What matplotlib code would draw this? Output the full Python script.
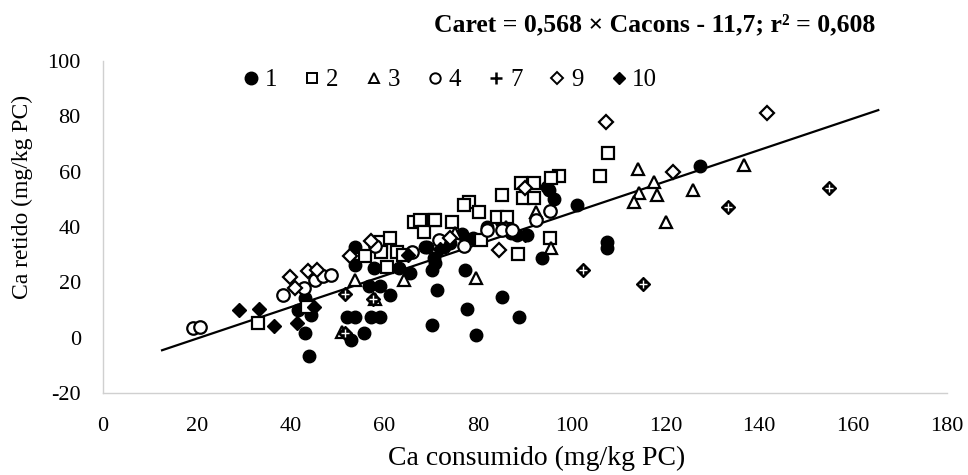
import numpy as np
import matplotlib
matplotlib.use("Agg")
import matplotlib.pyplot as plt
from matplotlib.lines import Line2D

plt.rcParams['font.family'] = ['Liberation Serif', 'DejaVu Serif']
plt.rcParams['axes.unicode_minus'] = False

# Ca consumido (x) e Ca retido (y), mg/kg PC, por grupo
g1_x = [43.2, 43.5, 41.7, 44.4, 43.2, 44.0, 53.8, 53.8, 57.8, 56.7, 59.2, 61.3,
        52.1, 53.8, 57.1, 59.2, 55.6, 53.0, 63.1, 65.6, 70.2, 71.3, 70.2, 68.8,
        77.2, 77.7, 85.2, 88.7, 79.5, 69.2, 72.7, 74.1, 70.6, 70.9, 88.3, 90.5,
        93.7, 96.2, 95.2, 94.8, 101.1, 107.6, 107.5, 127.4, 76.5, 79.0, 82.0,
        85.0, 87.0]
g1_y = [14.2, 11.2, 10.0, 8.2, 1.6, -6.5, 32.9, 26.3, 25.1, 18.7, 18.7, 15.4,
        7.6, 7.6, 7.6, 7.6, 1.6, -0.8, 25.1, 23.3, 24.5, 17.2, 4.6, 32.9,
        24.5, 10.3, 14.6, 7.6, 1.0, 32.9, 32.9, 34.1, 28.7, 26.9, 37.0, 37.1,
        28.7, 50.0, 53.4, 54.6, 48.0, 34.7, 32.3, 62.1, 37.5, 36.0, 40.0,
        42.0, 38.0]

g2_x = [33.0, 43.5, 55.8, 59.4, 61.2, 59.4, 60.6, 62.8, 66.3, 67.7, 70.6, 68.4,
        70.9, 74.5, 80.6, 84.1, 86.2, 78.1, 77.0, 89.1, 92.0, 89.5, 92.0, 97.2,
        95.5, 88.6, 95.4, 107.8, 106.0, 85.2, 80.2, 64.0]
g2_y = [5.2, 11.0, 29.5, 34.7, 35.9, 31.1, 25.7, 31.1, 41.9, 42.5, 42.5, 38.3,
        42.5, 41.9, 35.3, 43.7, 43.7, 49.2, 48.0, 56.0, 55.8, 50.4, 50.4, 58.4,
        57.6, 30.1, 36.1, 66.6, 58.4, 51.6, 45.5, 30.0]

g3_x = [53.8, 64.2, 51.0, 79.5, 95.5, 92.3, 114.2, 117.6, 118.2, 114.4, 113.3,
        125.8, 120.1, 136.7, 86.0, 75.0, 58.0]
g3_y = [20.9, 20.9, 2.0, 21.5, 32.3, 45.5, 60.9, 56.4, 51.6, 52.2, 49.2,
        53.4, 41.9, 62.4, 40.0, 38.0, 14.0]

g4_x = [19.3, 20.7, 38.5, 42.8, 45.2, 46.9, 48.7, 71.6, 95.4, 77.0, 82.0, 85.2,
        87.3, 92.3, 66.0, 58.0]
g4_y = [3.4, 4.0, 15.4, 17.8, 20.9, 22.4, 22.7, 35.3, 45.9, 33.1, 38.9, 38.9,
        38.9, 42.5, 31.0, 33.0]

g7_x = [51.7, 51.6, 102.4, 115.3, 133.4, 154.8, 57.5]
g7_y = [15.7, 1.6, 24.5, 19.3, 47.3, 54.0, 14.0]

g9_x = [40.0, 41.0, 43.7, 45.7, 52.6, 57.2, 84.5, 121.7, 141.7, 107.3, 90.0, 74.0]
g9_y = [21.8, 17.8, 24.2, 24.5, 29.5, 34.9, 31.7, 59.8, 81.1, 77.9, 54.0, 36.0]

g10_x = [29.1, 33.2, 36.5, 41.4, 45.0, 65.0, 72.0, 90.0]
g10_y = [10.0, 10.3, 4.3, 5.2, 11.0, 30.0, 32.0, 37.0]

# Caret = 0,568 x Cacons - 11,7
slope = 0.568
intercept = -11.7
line_x = [12.6, 165.4]

fig, ax = plt.subplots(figsize=(9.68, 4.75), dpi=100)
fig.subplots_adjust(left=0.1064, right=0.978, bottom=0.1726, top=0.8716)

lw = 1.6
ax.plot(g1_x, g1_y, 'o', ms=9, mfc='black', mec='black', zorder=3)
ax.plot(g2_x, g2_y, 's', ms=8.5, mfc='white', mec='black', mew=lw, zorder=3)
ax.plot(g3_x, g3_y, '^', ms=9, mfc='white', mec='black', mew=lw, zorder=3)
ax.plot(g4_x, g4_y, 'o', ms=9, mfc='white', mec='black', mew=lw, zorder=3)
# grupo 7: cruz sobre losango preto
ax.plot(g7_x, g7_y, 'D', ms=7.5, mfc='black', mec='black', zorder=3)
ax.plot(g7_x, g7_y, '+', ms=6, mec='white', mew=1.0, zorder=4)
ax.plot(g9_x, g9_y, 'D', ms=7.5, mfc='white', mec='black', mew=lw, zorder=3)
ax.plot(g10_x, g10_y, 'D', ms=7.5, mfc='black', mec='black', zorder=3)

lx = np.array(line_x)
ax.plot(lx, slope * lx + intercept, color='black', lw=1.6, zorder=2)

ax.set_xlim(0, 180)
ax.set_ylim(-20, 100)
ax.set_xticks(np.arange(0, 181, 20))
ax.set_yticks(np.arange(-20, 101, 20))
ax.tick_params(length=0, labelsize=16)
ax.tick_params(axis='x', pad=17)
ax.tick_params(axis='y', pad=16)
for s in ['top', 'right']:
    ax.spines[s].set_visible(False)
for s in ['left', 'bottom']:
    ax.spines[s].set_color('#d0d0d0')
    ax.spines[s].set_linewidth(1.0)

ax.set_xlabel('Ca consumido (mg/kg PC)', fontsize=20)
ax.xaxis.set_label_coords((537 - 103) / 844, -(458 - 393) / 332)
ax.xaxis.label.set_va('center')
ax.set_ylabel('Ca retido (mg/kg PC)', fontsize=17)
ax.yaxis.set_label_coords(-(103 - 22) / 844, (393 - 197) / 332)
ax.yaxis.label.set_va('center')

fig.text(655 / 968, 1 - 25 / 475, 'Caret = 0,568 × Cacons - 11,7; r² = 0,608',
         fontsize=18.5, fontweight='bold', ha='center', va='center')

handles = [
    Line2D([], [], ls='', marker='o', ms=9, mfc='black', mec='black'),
    Line2D([], [], ls='', marker='s', ms=7.5, mfc='white', mec='black', mew=1.4),
    Line2D([], [], ls='', marker='^', ms=7.5, mfc='white', mec='black', mew=1.4),
    Line2D([], [], ls='', marker='o', ms=7.5, mfc='white', mec='black', mew=1.4),
    Line2D([], [], ls='', marker='+', ms=8, mec='black', mew=1.8),
    Line2D([], [], ls='', marker='D', ms=6.5, mfc='white', mec='black', mew=1.4),
    Line2D([], [], ls='', marker='D', ms=6.5, mfc='black', mec='black'),
]
labels = ['1', '2', '3', '4', '7', '9', '10']
fig.legend(handles, labels, loc='center', bbox_to_anchor=(448 / 968, 1 - 80 / 475),
           ncol=7, frameon=False, fontsize=18, handletextpad=0.05,
           columnspacing=0.9, handlelength=1.0)

fig.savefig('out.png', dpi=100)
